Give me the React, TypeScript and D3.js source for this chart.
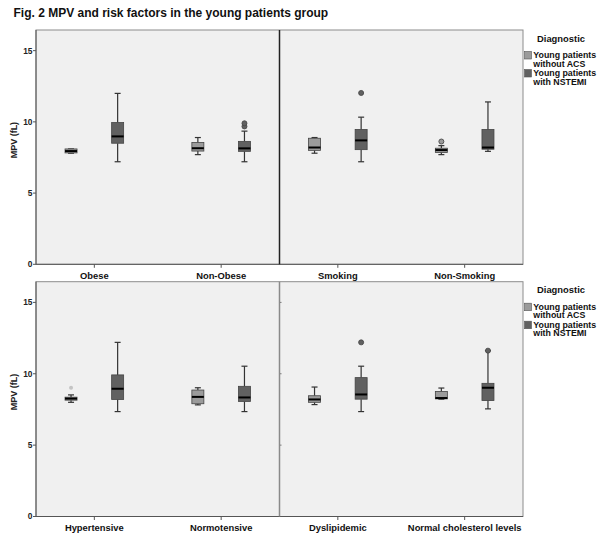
import React from "react";
import * as d3 from "d3";

// ---------- data ----------
const title = "Fig. 2 MPV and risk factors in the young patients group";
const yLabel = "MPV (fL)";
const legendTitle = "Diagnostic";
const groups = ["Young patients without ACS", "Young patients with NSTEMI"];
const legendLines = [["Young patients", "without ACS"], ["Young patients", "with NSTEMI"]];
const yTicks = [0, 5, 10, 15];

// row 1 facets
const topFacetA = ["Obese", "Non-Obese"];
const topFacetB = ["Smoking", "Non-Smoking"];
// row 2 facets
const bottomFacetA = ["Hypertensive", "Normotensive"];
const bottomFacetB = ["Dyslipidemic", "Normal cholesterol levels"];

// [min, q1, median, q3, max] : without ACS, with NSTEMI
const statsWithoutACS: Record<string, number[]> = {
  "Obese": [7.8, 7.82, 7.95, 8.1, 8.1],
  "Non-Obese": [7.7, 7.95, 8.15, 8.55, 8.9],
  "Smoking": [7.8, 8.0, 8.2, 8.85, 8.9],
  "Non-Smoking": [7.7, 7.85, 8.02, 8.15, 8.33],
  "Hypertensive": [8.0, 8.15, 8.26, 8.36, 8.52],
  "Normotensive": [7.82, 7.9, 8.38, 8.86, 9.02],
  "Dyslipidemic": [7.84, 8.0, 8.2, 8.46, 9.07],
  "Normal cholesterol levels": [8.22, 8.24, 8.3, 8.76, 9.0],
};
const statsWithNSTEMI: Record<string, number[]> = {
  "Obese": [7.2, 8.5, 8.98, 9.95, 12.0],
  "Non-Obese": [7.2, 7.93, 8.14, 8.63, 9.35],
  "Smoking": [7.2, 8.05, 8.7, 9.47, 10.33],
  "Non-Smoking": [7.93, 8.08, 8.2, 9.47, 11.4],
  "Hypertensive": [7.35, 8.2, 8.95, 9.92, 12.2],
  "Normotensive": [7.35, 8.06, 8.34, 9.12, 10.53],
  "Dyslipidemic": [7.35, 8.22, 8.55, 9.73, 10.53],
  "Normal cholesterol levels": [7.54, 8.12, 9.02, 9.33, 11.62],
};
const outliersWithoutACS: Record<string, number[]> = {
  "Non-Smoking": [8.62],
  "Hypertensive": [9.02],
};
const outliersWithNSTEMI: Record<string, number[]> = {
  "Non-Obese": [9.68, 9.9],
  "Smoking": [12.03],
  "Dyslipidemic": [12.2],
  "Normal cholesterol levels": [11.62],
};

// ---------- styling ----------
const W = 612;
const H = 546;
const FONT = "'Liberation Sans', Arial, Helvetica, sans-serif";
const groupFill = ["#9b9b9b", "#616161"];
const plotLeft = 36;
const plotRight = 523;
const rows = [
  { top: 30, bottom: 264.3, facets: [topFacetA, topFacetB], dividerDark: true },
  { top: 281.7, bottom: 516.5, facets: [bottomFacetA, bottomFacetB], dividerDark: false },
];

function BoxPlot({ cx, stats, outliers, y, fill, faintOutlier }: any) {
  const [mn, q1, md, q3, mx] = stats;
  const bw = 12;
  const cap = 6;
  return (
    <g>
      <line x1={cx} x2={cx} y1={y(mx)} y2={y(q3)} stroke="#333" strokeWidth={1.2} />
      <line x1={cx} x2={cx} y1={y(q1)} y2={y(mn)} stroke="#333" strokeWidth={1.2} />
      <line x1={cx - cap / 2} x2={cx + cap / 2} y1={y(mx)} y2={y(mx)} stroke="#333" strokeWidth={1.2} />
      <line x1={cx - cap / 2} x2={cx + cap / 2} y1={y(mn)} y2={y(mn)} stroke="#333" strokeWidth={1.2} />
      <rect x={cx - bw / 2} y={y(q3)} width={bw} height={Math.max(1, y(q1) - y(q3))} fill={fill} stroke="#444" strokeWidth={0.8} />
      <line x1={cx - bw / 2} x2={cx + bw / 2} y1={y(md)} y2={y(md)} stroke="#000" strokeWidth={2} />
      {(outliers || []).map((o: number, i: number) =>
        faintOutlier ? (
          <circle key={i} cx={cx} cy={y(o)} r={2} fill="#c4c4c4" />
        ) : (
          <circle key={i} cx={cx} cy={y(o)} r={2.5} fill={fill} stroke="#4a4a4a" strokeWidth={0.9} />
        )
      )}
    </g>
  );
}

export default function App() {
  const facetW = (plotRight - plotLeft) / 2;
  const groupOffset = d3.scalePoint<string>().domain(groups).range([-23.3, 23.3]);

  return (
    <div style={{ position: "fixed", left: 0, top: 0 }}>
      <svg width={W} height={H} style={{ display: "block", background: "#fff" }} fontFamily={FONT}>
        <text x={13.5} y={17} fontSize={12} fontWeight="bold" fill="#111">{title}</text>
        {rows.map((row, ri) => {
          const y = d3.scaleLinear().domain([0, 16.45]).range([row.bottom, row.top]);
          const midX = plotLeft + facetW;
          return (
            <g key={ri}>
              <rect x={plotLeft} y={row.top} width={plotRight - plotLeft} height={row.bottom - row.top} fill="#f0f0f0" stroke="#8c8c8c" strokeWidth={1} />
              {/* y axis */}
              <line x1={plotLeft} x2={plotLeft} y1={row.top} y2={row.bottom} stroke="#555" strokeWidth={1} />
              <line x1={plotLeft} x2={plotRight} y1={row.bottom} y2={row.bottom} stroke="#555" strokeWidth={1} />
              {yTicks.map((t) => (
                <g key={t}>
                  <line x1={plotLeft - 3} x2={plotLeft} y1={y(t)} y2={y(t)} stroke="#555" />
                  <text x={plotLeft - 3.5} y={y(t)} dy="0.35em" textAnchor="end" fontSize={8.4} fontWeight="bold" fill="#222">{t}</text>
                  {!row.dividerDark && t > 0 && (
                    <line x1={midX} x2={midX + 2} y1={y(t)} y2={y(t)} stroke="#777" />
                  )}
                </g>
              ))}
              <text transform={`translate(13.5, ${row.top + 0.47 * (row.bottom - row.top)}) rotate(-90)`} textAnchor="middle" fontSize={9} fontWeight="bold" fill="#222" dy="0.35em">{yLabel}</text>
              {/* divider */}
              <line x1={midX} x2={midX} y1={row.top} y2={row.bottom} stroke={row.dividerDark ? "#222" : "#8a8a8a"} strokeWidth={row.dividerDark ? 1.5 : 1.5} />
              {row.facets.map((cats, fi) => {
                const x = d3.scalePoint<string>().domain(cats).range([plotLeft + fi * facetW, plotLeft + (fi + 1) * facetW]).padding(0.46);
                return (
                  <g key={fi}>
                    {cats.map((c) => {
                      const cx = x(c) as number;
                      return (
                        <g key={c}>
                          <line x1={cx} x2={cx} y1={row.bottom} y2={row.bottom + 3.5} stroke="#555" />
                          <text x={cx} y={row.bottom + 14.2} textAnchor="middle" fontSize={9.4} fontWeight="bold" fill="#111">{c}</text>
                          <BoxPlot cx={cx + (groupOffset(groups[0]) as number)} stats={statsWithoutACS[c]} outliers={outliersWithoutACS[c]} y={y} fill={groupFill[0]} faintOutlier={c === "Hypertensive"} />
                          <BoxPlot cx={cx + (groupOffset(groups[1]) as number)} stats={statsWithNSTEMI[c]} outliers={outliersWithNSTEMI[c]} y={y} fill={groupFill[1]} />
                        </g>
                      );
                    })}
                  </g>
                );
              })}
              {/* legend */}
              <g>
                <text x={561} y={row.top + 11.5} textAnchor="middle" fontSize={9.4} fontWeight="bold" fill="#111">{legendTitle}</text>
                {groups.map((g, gi) => {
                  const sy = row.top + 21.5 + gi * 18;
                  return (
                    <g key={g}>
                      <rect x={524.5} y={sy} width={7} height={7.5} fill={groupFill[gi]} stroke="#555" strokeWidth={0.6} />
                      <text x={533.3} y={sy + 6.5} fontSize={8.8} fontWeight="bold" fill="#111">{legendLines[gi][0]}</text>
                      <text x={533.3} y={sy + 15} fontSize={8.8} fontWeight="bold" fill="#111">{legendLines[gi][1]}</text>
                    </g>
                  );
                })}
              </g>
            </g>
          );
        })}
      </svg>
    </div>
  );
}
